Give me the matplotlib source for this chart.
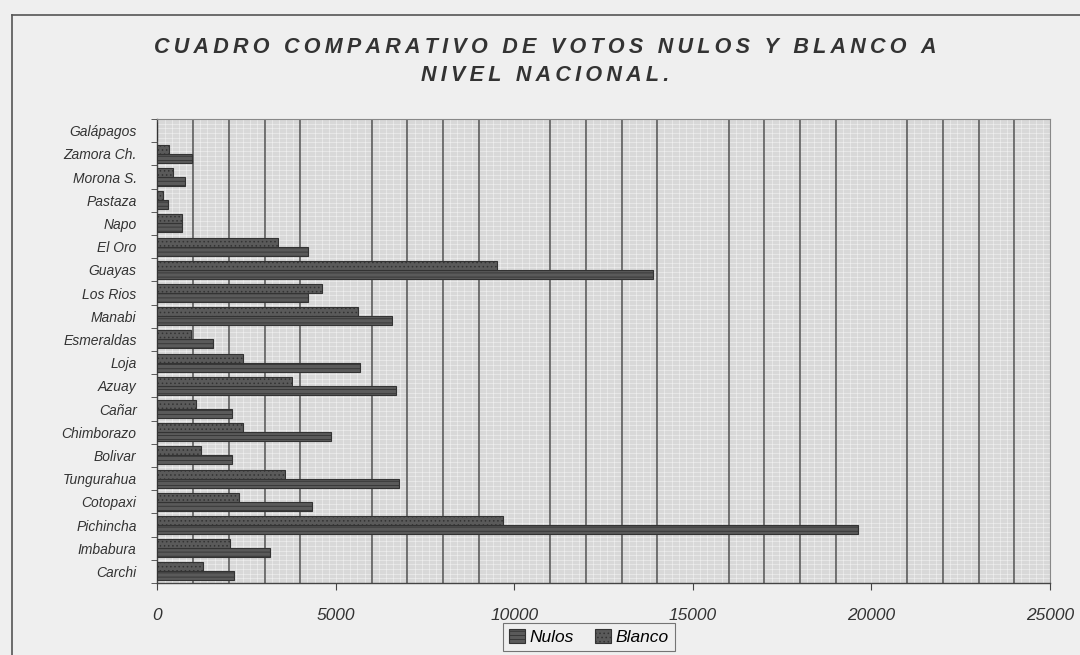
"""Cuadro comparativo de votos nulos y blanco a nivel nacional."""

import matplotlib
matplotlib.use("Agg")
import matplotlib.pyplot as plt
import numpy as np
from matplotlib.ticker import MultipleLocator

# bottom to top, as in the chart
provincias = [
    "Carchi", "Imbabura", "Pichincha", "Cotopaxi", "Tungurahua", "Bolivar",
    "Chimborazo", "Cañar", "Azuay", "Loja", "Esmeraldas", "Manabi",
    "Los Rios", "Guayas", "El Oro", "Napo", "Pastaza", "Morona S.",
    "Zamora Ch.", "Galápagos",
]
nulos = [2140, 3140, 19620, 4320, 6770, 2080, 4870, 2080, 6690, 5680,
         1550, 6580, 4230, 13870, 4230, 680, 290, 770, 960, 0]
blanco = [1270, 2030, 9680, 2280, 3560, 1220, 2390, 1080, 3760, 2390,
          940, 5630, 4620, 9510, 3370, 680, 150, 430, 320, 0]
xticks = [0, 5000, 10000, 15000, 20000, 25000]

BG = "#efefef"
PLOT_BG = "#d8d8d8"
BAR = "#5a5a5a"

plt.rcParams["font.family"] = ["Liberation Sans", "DejaVu Sans"]
plt.rcParams["hatch.color"] = "#8a8a8a"
plt.rcParams["hatch.linewidth"] = 0.6


def spaced(s):
    # old excel charts had wide letter tracking
    return "\u2009".join(s)


fig = plt.figure(figsize=(10.8, 6.55), dpi=100, facecolor=BG)
ax = fig.add_axes([0.1458, 0.1099, 0.8264, 0.7084])
ax.set_facecolor(PLOT_BG)

y = np.arange(len(provincias))
h = 0.39
ax.barh(y - h / 2, nulos, height=h, color=BAR, edgecolor="#333333",
        linewidth=0.8, hatch="----", label="Nulos", zorder=3)
ax.barh(y + h / 2, blanco, height=h, color=BAR, edgecolor="#333333",
        linewidth=0.8, hatch="....", label="Blanco", zorder=3)

ax.set_xlim(0, 25000)
ax.set_ylim(-0.5, len(provincias) - 0.5)

# major grid every 1000, fine white texture underneath
ax.xaxis.set_minor_locator(MultipleLocator(1000))
ax.grid(which="minor", axis="x", color="#505050", linewidth=1.1, zorder=1)
for xv in np.arange(0, 25000, 200):
    ax.axvline(xv, color="white", linewidth=0.5, alpha=0.55, zorder=0.5)
for yv in np.arange(-0.5, len(provincias), 0.2):
    ax.axhline(yv, color="white", linewidth=0.5, alpha=0.55, zorder=0.5)

ax.set_xticks(xticks)
ax.set_xticklabels([str(v) for v in xticks], fontsize=12.5, style="italic",
                   color="#333333")
ax.tick_params(axis="x", which="major", length=5, pad=13, color="#444444")
ax.tick_params(axis="x", which="minor", length=0)

ax.set_yticks(y)
ax.set_yticklabels(provincias, fontsize=10, style="italic", color="#333333")
ax.set_yticks(np.arange(-0.5, len(provincias), 1.0), minor=True)
ax.tick_params(axis="y", which="major", length=0, pad=15)
ax.tick_params(axis="y", which="minor", length=4, color="#444444")

for side in ("top", "right"):
    ax.spines[side].set_color("#888888")
    ax.spines[side].set_linewidth(0.8)
for side in ("left", "bottom"):
    ax.spines[side].set_color("#444444")
    ax.spines[side].set_linewidth(1.0)

fig.text(0.505, 0.928, spaced("CUADRO COMPARATIVO DE VOTOS NULOS Y BLANCO A"),
         ha="center", va="center", fontsize=15.5, fontweight="bold",
         style="italic", color="#333333")
fig.text(0.505, 0.885, spaced("NIVEL NACIONAL."), ha="center", va="center",
         fontsize=15.5, fontweight="bold", style="italic", color="#333333")

leg = ax.legend(loc="center", bbox_to_anchor=(0.4835, -0.116),
                ncol=2, frameon=True, fancybox=False,
                prop={"style": "italic", "size": 12.5}, handlelength=0.9,
                handleheight=0.9, handletextpad=0.3, columnspacing=1.2,
                borderpad=0.35, edgecolor="#555555")
leg.get_frame().set_facecolor(BG)
leg.get_frame().set_linewidth(0.8)

# outer chart frame
fig.add_artist(plt.Line2D([0.011, 1.0], [0.977, 0.977], transform=fig.transFigure,
                          color="#555555", linewidth=1.2))
fig.add_artist(plt.Line2D([0.011, 0.011], [0.0, 0.977], transform=fig.transFigure,
                          color="#555555", linewidth=1.2))

fig.savefig("out.png", dpi=100, facecolor=BG)
plt.close(fig)
